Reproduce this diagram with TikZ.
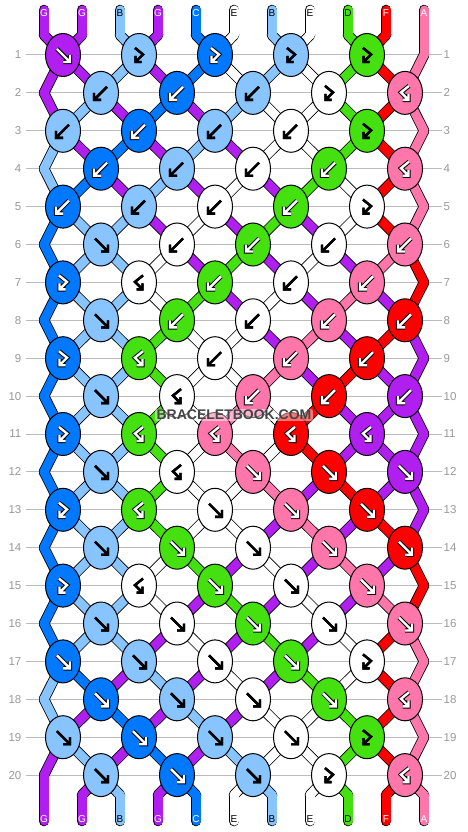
\documentclass[tikz,border=0pt]{standalone}
\usepackage{fontspec}
\setmainfont{Liberation Sans}
\usetikzlibrary{shapes.geometric,calc}
\definecolor{colG}{HTML}{B01EF0}
\definecolor{colB}{HTML}{88C4FF}
\definecolor{colC}{HTML}{0078FF}
\definecolor{colE}{HTML}{FFFFFF}
\definecolor{colD}{HTML}{44E010}
\definecolor{colDl}{HTML}{44E010}
\definecolor{colF}{HTML}{FF0000}
\definecolor{colA}{HTML}{FF77AA}
\definecolor{rowgray}{HTML}{999999}
\definecolor{gridgray}{HTML}{BBBBBB}
\definecolor{wmgray}{HTML}{444444}
\tikzset{
  knot/.style={ellipse, draw=black, line width=1pt, minimum width=35pt, minimum height=43pt, inner sep=0pt},
  gridline/.style={draw=gridgray, line width=1pt},
  rowlbl/.style={text=rowgray, font=\fontsize{11.5}{12}\selectfont, inner sep=0pt},
  strandout/.style={draw=black, line width=10.6pt, line cap=round, line join=round},
  strandin/.style={line width=9pt, line cap=round, line join=round},
  endlbl/.style={font=\fontsize{10}{10}\selectfont, inner sep=0pt},
  tc-G/.style={text=white}, tc-C/.style={text=white}, tc-F/.style={text=white},
  tc-A/.style={text=white}, tc-D/.style={text=black}, tc-B/.style={text=black},
  tc-E/.style={text=black},
  dark/.style={aout/.style={draw=black, line width=4.4pt}, ain/.style={draw=white, line width=2.4pt}},
  light/.style={aout/.style={draw=black, line width=2.4pt}, ain/.style={draw=black, line width=2.4pt}},
  tone-G/.style={dark}, tone-C/.style={dark}, tone-D/.style={dark}, tone-F/.style={dark},
  tone-A/.style={dark}, tone-B/.style={light}, tone-E/.style={light}, tone-Dl/.style={light},
  pics/arrF/.style={code={
    \draw[aout] (-6,-6)--(7,7) (7,0)--(7,7)--(0,7);
    \draw[ain] (-6,-6)--(7,7) (7,0)--(7,7)--(0,7);}},
  pics/arrB/.style={code={
    \draw[aout] (6,-6)--(-7,7) (-7,0)--(-7,7)--(0,7);
    \draw[ain] (6,-6)--(-7,7) (-7,0)--(-7,7)--(0,7);}},
  pics/arrFB/.style={code={
    \draw[aout] (-4,-7)--(4,-0.5)--(-3.5,7) (-3.5,1)--(-3.5,7)--(2.5,7);
    \draw[ain] (-4,-7)--(4,-0.5)--(-3.5,7) (-3.5,1)--(-3.5,7)--(2.5,7);}},
  pics/arrBF/.style={code={
    \draw[aout] (4,-7)--(-4,-0.5)--(3.5,7) (3.5,1)--(3.5,7)--(-2.5,7);
    \draw[ain] (4,-7)--(-4,-0.5)--(3.5,7) (3.5,1)--(3.5,7)--(-2.5,7);}},
  wmark/.style={text=wmgray, font=\bfseries\fontsize{14}{14}\selectfont, fill=white, fill opacity=0.45, text opacity=1, inner xsep=1.5pt, inner ysep=1pt, rounded corners=2pt},
}
% position of string #2 after row #1
\newcommand\ptxy[2]{%
  \pgfmathsetmacro\ny{(#1==0) ? 35 : ((#1==21) ? 795 : 55+37.9*(#1-1))}%
  \pgfmathsetmacro\nx{44+38*(#2-1) + (((#1==0) || (#1==21)) ? 0 : ((((mod(#1,2)==1) && (#2==11)) || ((mod(#1,2)==0) && (#2==1))) ? 0 : ((mod(#1+#2,2)==0) ? 19 : -19)))}%
}
\newcommand\statelist{0/{G,G,B,G,C,E,B,E,D,F,A},
1/{G,G,B,G,C,E,B,E,D,F,A},
2/{G,B,G,C,G,B,E,E,D,F,A},
3/{B,G,C,G,B,G,E,E,D,F,A},
4/{B,C,G,B,G,E,G,D,E,F,A},
5/{C,B,B,G,E,G,D,G,E,F,A},
6/{C,B,B,E,G,D,G,E,G,A,F},
7/{C,B,B,E,D,G,E,G,A,G,F},
8/{C,B,B,D,E,E,G,A,G,F,G},
9/{C,B,B,D,E,E,A,G,F,G,G},
10/{C,B,B,D,E,A,E,F,G,G,G},
11/{C,B,B,D,E,A,E,F,G,G,G},
12/{C,B,B,D,E,E,A,G,F,G,G},
13/{C,B,B,D,E,E,G,A,G,F,G},
14/{C,B,B,E,D,G,E,G,A,G,F},
15/{C,B,B,E,G,D,G,E,G,A,F},
16/{C,B,B,G,E,G,D,G,E,F,A},
17/{B,C,G,B,G,E,G,D,E,F,A},
18/{B,G,C,G,B,G,E,E,D,F,A},
19/{G,B,G,C,G,B,E,E,D,F,A},
20/{G,G,B,G,C,E,B,E,D,F,A}}
\newcommand\knotlist{1/{F/G,FB/B,FB/C,FB/B,FB/Dl},
2/{B/B,B/C,B/B,FB/E,BF/A},
3/{B/B,B/C,B/B,B/E,FB/Dl},
4/{B/C,B/B,B/E,B/D,BF/A},
5/{B/C,B/B,B/E,B/D,FB/E},
6/{F/B,B/E,B/D,B/E,B/A},
7/{FB/C,BF/E,B/D,B/E,B/A},
8/{F/B,B/D,B/E,B/A,B/F},
9/{FB/C,BF/D,B/E,B/A,B/F},
10/{F/B,BF/E,B/A,B/F,B/G},
11/{FB/C,BF/D,BF/A,BF/F,BF/G},
12/{F/B,BF/E,F/A,F/F,F/G},
13/{FB/C,BF/D,F/E,F/A,F/F},
14/{F/B,F/D,F/E,F/A,F/F},
15/{FB/C,BF/E,F/D,F/E,F/A},
16/{F/B,F/E,F/D,F/E,F/A},
17/{F/C,F/B,F/E,F/D,FB/E},
18/{F/C,F/B,F/E,F/D,BF/A},
19/{F/B,F/C,F/B,F/E,FB/Dl},
20/{F/B,F/C,F/B,FB/E,BF/A}}
\begin{document}
\begin{tikzpicture}[x=1pt,y=-1pt]
\fill[white] (0,0) rectangle (468,832);
\useasboundingbox (0,0) rectangle (468,832);
% guide lines and row numbers
\foreach \rw in {1,...,20} {
  \pgfmathsetmacro\ky{55+37.9*(\rw-1)}
  \coordinate (gl-\rw) at (26,\ky);
  \coordinate (gr-\rw) at (442,\ky);
  \draw[gridline] (gl-\rw) -- (gr-\rw);
  \node[rowlbl, anchor=east] (ll-\rw) at (21.5,\ky) {\rw};
  \node[rowlbl, anchor=west] (rl-\rw) at (443.5,\ky) {\rw};
}
% string points
\foreach \rw in {0,...,21} {
  \foreach \ps in {1,...,11} {
    \ptxy{\rw}{\ps}
    \coordinate (n-\rw-\ps) at (\nx,\ny);
  }
}
\foreach \ps in {1,...,11} {
  \pgfmathsetmacro\sx{44+38*(\ps-1)}
  \coordinate (t-\ps) at (\sx,10);
  \coordinate (b-\ps) at (\sx,821);
  \coordinate (tt-\ps) at (\sx,13.5);
  \coordinate (bb-\ps) at (\sx,819);
}
% strands: outline pass, then colour pass
\foreach \pass in {1,2} {
  \foreach \rw/\st in \statelist {
    \pgfmathtruncatemacro\rn{\rw+1}
    \foreach \sc [count=\ps] in \st {
      \ifnum\pass=1
        \draw[strandout] (n-\rw-\ps) -- (n-\rn-\ps);
        \ifnum\rw=0 \draw[strandout] (t-\ps) -- (n-0-\ps); \fi
        \ifnum\rw=20 \draw[strandout] (n-21-\ps) -- (b-\ps); \fi
      \else
        \draw[strandin, draw=col\sc] (n-\rw-\ps) -- (n-\rn-\ps);
        \ifnum\rw=0 \draw[strandin, draw=col\sc] (t-\ps) -- (n-0-\ps); \fi
        \ifnum\rw=20 \draw[strandin, draw=col\sc] (n-21-\ps) -- (b-\ps); \fi
      \fi
    }
  }
}
% end labels
\foreach \sc [count=\ps] in {G,G,B,G,C,E,B,E,D,F,A} {
  \node[endlbl, tc-\sc] (tl-\ps) at (tt-\ps) {\sc};
  \node[endlbl, tc-\sc] (bl-\ps) at (bb-\ps) {\sc};
}
% knots
\foreach \rw/\row in \knotlist {
  \foreach \kt/\kc [count=\kn] in \row {
    \pgfmathsetmacro\kx{(mod(\rw,2)==1 ? 63 : 101) + 76*(\kn-1)}
    \pgfmathsetmacro\ky{55+37.9*(\rw-1)}
    \node[knot, fill=col\kc] (k-\rw-\kn) at (\kx,\ky) {};
    \edef\tmp{\noexpand\pic[tone-\kc] at (k-\rw-\kn) {arr\kt};}\tmp
  }
}
% watermark
\node[wmark] (wm) at (234,415) {BRACELETBOOK.COM};
\end{tikzpicture}
\end{document}
